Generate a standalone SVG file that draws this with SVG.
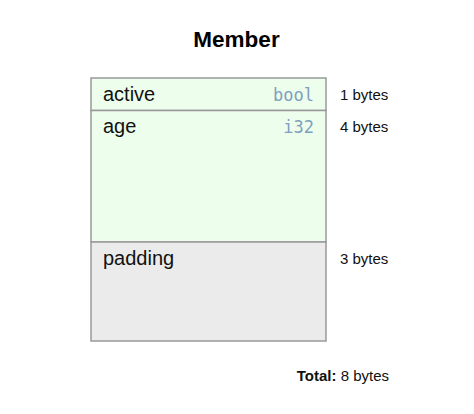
<svg xmlns="http://www.w3.org/2000/svg" width="474" height="414" viewBox="0 0 474 414">
<style>
.title{font-family:"Liberation Sans",Arial,sans-serif;font-size:22.5px;font-weight:bold;fill:#000}
.name{font-family:"Liberation Sans",Arial,sans-serif;font-size:20px;fill:#111}
.type{font-family:"DejaVu Sans Mono","Liberation Mono",monospace;font-size:17px;fill:#7f9fbf;text-anchor:end}
.size{font-family:"Liberation Sans",Arial,sans-serif;font-size:15px;fill:#111}
.field{fill:#eefeec;stroke:#999;stroke-width:1.5}
.pad{fill:#ebebeb;stroke:#999;stroke-width:1.5}
</style>
<rect width="474" height="414" fill="#fff"/>
<text class="title" x="236.5" y="47" text-anchor="middle">Member</text>
<g id="active">
<rect class="field" x="91" y="78" width="235" height="32.5"/>
<text class="name" x="103" y="100.5">active</text>
<text class="type" x="314" y="101">bool</text>
<text class="size" x="340" y="100">1 bytes</text>
</g>
<g id="age">
<rect class="field" x="91" y="110.5" width="235" height="131.5"/>
<text class="name" x="103" y="133">age</text>
<text class="type" x="314" y="133">i32</text>
<text class="size" x="340" y="132">4 bytes</text>
</g>
<g id="padding">
<rect class="pad" x="91" y="242" width="235" height="99"/>
<text class="name" x="103" y="265">padding</text>
<text class="size" x="340" y="264">3 bytes</text>
</g>
<g id="connectors"/>
<text class="size" x="389" y="381" text-anchor="end"><tspan font-weight="bold">Total:</tspan> 8 bytes</text>
</svg>
